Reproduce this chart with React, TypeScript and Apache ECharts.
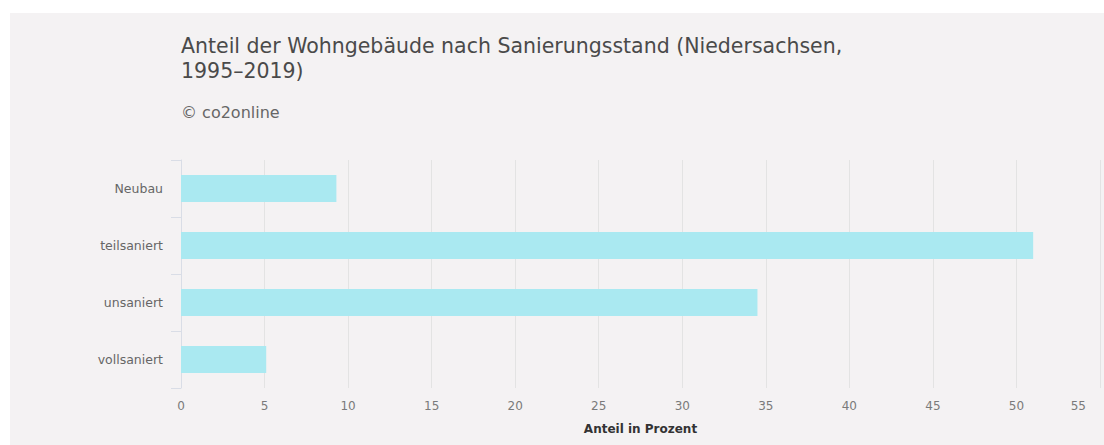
import React, { useEffect, useRef } from "react";
import * as echarts from "echarts";

const categories = ["Neubau", "teilsaniert", "unsaniert", "vollsaniert"];
const values = [9.3, 51.0, 34.5, 5.1];
const titleLines = ["Anteil der Wohngebäude nach Sanierungsstand (Niedersachsen,", "1995–2019)"];
const subtitle = "© co2online";
const xAxisName = "Anteil in Prozent";

const FONT = "'DejaVu Sans', sans-serif";

export default function App() {
  const ref = useRef<HTMLDivElement>(null);
  useEffect(() => {
    document.body.style.margin = "0";
    const chart = echarts.init(ref.current!, null, { renderer: "svg" });
    chart.setOption({
      animation: false,
      backgroundColor: "#ffffff",
      graphic: [
        {
          type: "rect",
          z: -10,
          shape: { x: 10, y: 13, width: 1094, height: 432 },
          style: { fill: "#f4f2f3" },
          silent: true,
        },
      ],
      title: [
        {
          text: titleLines.join("\n"),
          left: 181,
          top: 34,
          padding: 0,
          textStyle: {
            fontFamily: FONT,
            fontSize: 20.5,
            lineHeight: 24.5,
            fontWeight: "normal",
            color: "#4a4a4a",
          },
        },
        {
          text: subtitle,
          left: 181,
          top: 104,
          padding: 0,
          textStyle: {
            fontFamily: FONT,
            fontSize: 16,
            fontWeight: "normal",
            color: "#666666",
          },
        },
      ],
      grid: { left: 181, top: 160, right: 4, bottom: 57, containLabel: false },
      xAxis: {
        type: "value",
        min: 0,
        max: 55,
        interval: 5,
        name: xAxisName,
        nameLocation: "middle",
        nameGap: 35,
        nameTextStyle: { fontFamily: FONT, fontSize: 12, fontWeight: "bold", color: "#333333" },
        axisLine: { show: false },
        axisTick: { show: false },
        splitLine: { show: true, lineStyle: { color: "#e3e3e3", width: 1 } },
        axisLabel: {
          fontFamily: FONT,
          fontSize: 12,
          color: "#7a7a7a",
          margin: 12,
          alignMaxLabel: "right",
          formatter: (v: number) => (v === 55 ? "{last|55}" : String(v)),
          rich: { last: { fontFamily: FONT, fontSize: 12, color: "#7a7a7a", padding: [0, 14, 0, 0] } },
        },
      },
      yAxis: {
        type: "category",
        data: categories,
        inverse: true,
        axisLine: { show: true, lineStyle: { color: "#d9dde6", width: 1 } },
        axisTick: { show: true, length: 10, lineStyle: { color: "#d9dde6" } },
        axisLabel: { fontFamily: FONT, fontSize: 12.5, color: "#666666", margin: 18 },
        splitLine: { show: false },
      },
      series: [
        {
          type: "bar",
          data: values,
          barWidth: 27,
          itemStyle: { color: "#aae9f1" },
        },
      ],
    });
    return () => chart.dispose();
  }, []);
  return <div ref={ref} style={{ width: 1104, height: 445 }} />;
}
